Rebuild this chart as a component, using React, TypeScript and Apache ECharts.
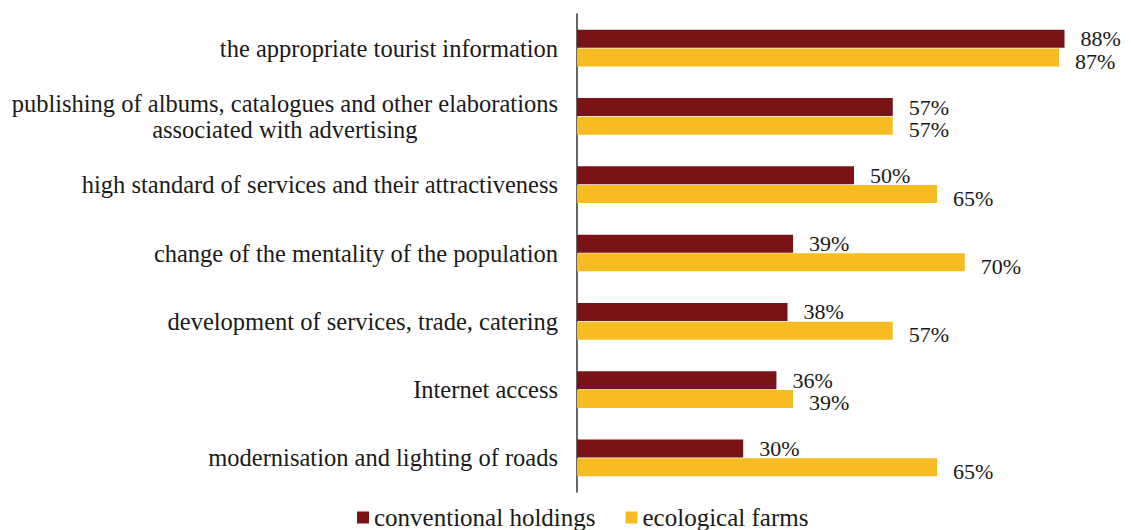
import React, { useEffect, useRef } from "react";
import * as echarts from "echarts";

const categories: string[] = [
  "the appropriate tourist information",
  "publishing of albums, catalogues and other elaborations\nassociated with advertising",
  "high standard of services and their attractiveness",
  "change of the mentality of the population",
  "development of services, trade, catering",
  "Internet access",
  "modernisation and lighting of roads",
];

const seriesNames: string[] = ["conventional holdings", "ecological farms"];
const conventionalValues: number[] = [88, 57, 50, 39, 38, 36, 30];
const ecologicalValues: number[] = [87, 57, 65, 70, 57, 39, 65];

const FONT = "'Liberation Serif', 'Times New Roman', serif";

export default function App() {
  const ref = useRef<HTMLDivElement>(null);

  useEffect(() => {
    if (!ref.current) return;
    const chart = echarts.init(ref.current, undefined, { renderer: "svg" });
    const makeLabel = (dy: number) => ({
      show: true,
      position: "right" as const,
      distance: 16,
      offset: [0, dy],
      formatter: "{c}%",
      fontFamily: FONT,
      fontSize: 22,
      lineHeight: 17,
      color: "#1a1a1a",
    });
    chart.setOption({
      animation: false,
      backgroundColor: "#ffffff",
      grid: { left: 577, top: 14, width: 558, height: 478 },
      legend: {
        data: seriesNames,
        left: 357,
        top: 505,
        padding: 0,
        icon: "rect",
        itemWidth: 12,
        itemHeight: 12,
        itemGap: 30,
        textStyle: { fontFamily: FONT, fontSize: 25, lineHeight: 24, color: "#1a1a1a" },
      },
      xAxis: {
        type: "value",
        min: 0,
        max: 100,
        show: false,
        splitLine: { show: false },
      },
      yAxis: {
        type: "category",
        inverse: true,
        data: categories,
        axisLine: { show: true, lineStyle: { color: "#333333", width: 1.5 } },
        axisTick: { show: false },
        axisLabel: {
          margin: 19,
          fontFamily: FONT,
          fontSize: 24.5,
          color: "#1a1a1a",
          lineHeight: 26,
          formatter: (v: string) =>
            v
              .split("\n")
              .map((l) => "{c|" + l + "}")
              .join("\n"),
          rich: {
            c: {
              align: "center",
              fontFamily: FONT,
              fontSize: 24.5,
              color: "#1a1a1a",
              lineHeight: 26,
            },
          },
        },
      },
      series: [
        {
          name: seriesNames[0],
          type: "bar",
          data: conventionalValues,
          barWidth: 18,
          barGap: "4%",
          itemStyle: { color: "#7A1316" },
          label: makeLabel(0),
        },
        {
          name: seriesNames[1],
          type: "bar",
          data: ecologicalValues,
          barWidth: 18,
          barGap: "4%",
          itemStyle: { color: "#F6BC22" },
          label: makeLabel(4),
        },
      ],
    });
    return () => chart.dispose();
  }, []);

  return (
    <div
      ref={ref}
      style={{
        position: "fixed",
        left: 0,
        top: 0,
        width: 1131,
        height: 530,
        background: "#fff",
      }}
    />
  );
}
